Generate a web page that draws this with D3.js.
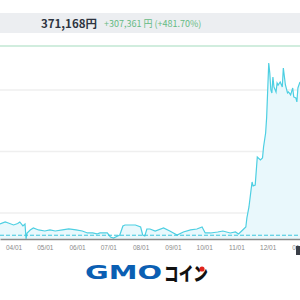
<!DOCTYPE html>
<html>
<head>
<meta charset="utf-8">
<script src="https://cdn.jsdelivr.net/npm/d3@7"></script>
<style>
  body { margin: 0; background: #fff; }
  svg { display: block; font-family: "Noto Sans CJK JP", "Liberation Sans", sans-serif; }
</style>
</head>
<body>
<svg id="chart" width="300" height="300"></svg>
<script>
// values (yen)
var dates = ["2020-03-19","2020-03-24","2020-03-27","2020-04-01","2020-04-05","2020-04-07","2020-04-10","2020-04-12","2020-04-13","2020-04-14",
  "2020-04-17","2020-04-20","2020-04-25","2020-05-01","2020-05-06","2020-05-11","2020-05-18","2020-05-24","2020-05-31","2020-06-06",
  "2020-06-11","2020-06-16","2020-06-20","2020-06-23","2020-06-30","2020-07-03","2020-07-06","2020-07-10","2020-07-12","2020-07-15",
  "2020-07-17","2020-07-22","2020-07-27","2020-08-01","2020-08-03","2020-08-05","2020-08-07","2020-08-10","2020-08-15","2020-08-23",
  "2020-08-29","2020-09-05","2020-09-11","2020-09-18","2020-09-24","2020-09-29","2020-10-02","2020-10-07","2020-10-14","2020-10-19",
  "2020-10-26","2020-10-31","2020-11-03","2020-11-07","2020-11-10","2020-11-11","2020-11-13","2020-11-15","2020-11-16","2020-11-17",
  "2020-11-19","2020-11-21","2020-11-24","2020-11-26","2020-11-27","2020-11-29","2020-11-30","2020-12-02","2020-12-03","2020-12-04",
  "2020-12-05","2020-12-06","2020-12-07","2020-12-09","2020-12-10","2020-12-11","2020-12-13","2020-12-15","2020-12-16","2020-12-18",
  "2020-12-20","2020-12-21","2020-12-23","2020-12-25","2020-12-26","2020-12-28","2020-12-29","2020-12-30","2021-01-01"];
var values = [82100,85400,83700,80500,83000,85400,78900,82100,58000,67500,
  72400,75600,72400,70700,72400,70700,72400,74000,72400,70700,
  67500,67500,65900,67500,67500,61000,59300,62600,64200,78900,
  80500,80500,80500,77200,64200,62600,74000,74000,70700,75600,
  70700,64200,69100,72400,74000,77200,67500,67500,69100,70700,
  67500,69100,65900,72400,77200,91900,109800,137400,150400,143900,
  145500,191100,186200,189400,207300,230100,256100,343900,327600,300000,
  295100,321100,304900,296700,311400,308100,313000,304900,335800,308100,
  295100,296700,291900,303300,288700,287000,280500,303300,313000];
var startValue = 63807;
var gridValues = [100000, 200000, 300000];
var tickDates = ["2020-04-01","2020-05-01","2020-06-01","2020-07-01","2020-08-01","2020-09-01","2020-10-01","2020-11-01","2020-12-01","2021-01-01"];
var totalText = "371,168円";
var changeText = "+307,361 円 (+481.70%)";

var parse = d3.timeParse("%Y-%m-%d");
var data = dates.map(function(d, i){ return {date: parse(d), value: values[i]}; });

var svg = d3.select("#chart");

var x = d3.scaleTime()
  .domain([parse("2020-03-19"), parse("2021-01-01")])
  .range([0, 300]);
var y = d3.scaleLinear()
  .domain([57700, 371500])
  .range([239, 46]);

// header bar
svg.append("rect").attr("x", 0).attr("y", 13).attr("width", 300).attr("height", 20).attr("fill", "#eceef1");
svg.append("text").text(totalText)
  .attr("x", 41).attr("y", 27.5)
  .attr("font-size", 11.5).attr("font-weight", "bold").attr("fill", "#2e3440");
svg.append("text").text(changeText)
  .attr("x", 104).attr("y", 27)
  .attr("font-size", 9).attr("fill", "#66bb84");

// green top rule
svg.append("line").attr("x1", 0).attr("x2", 300).attr("y1", 46).attr("y2", 46)
  .attr("stroke", "#a3dbbd").attr("stroke-width", 1.2);

// grid
svg.append("g").selectAll("line")
  .data(gridValues)
  .enter()
  .append("line")
    .attr("x1", 0).attr("x2", 300)
    .attr("y1", function(d){ return y(d); })
    .attr("y2", function(d){ return y(d); })
    .attr("stroke", "#efefef").attr("stroke-width", 1.5);

// area + line
var area = d3.area()
  .x(function(d){ return x(d.date); })
  .y0(y.range()[0])
  .y1(function(d){ return y(d.value); });
var line = d3.line()
  .x(function(d){ return x(d.date); })
  .y(function(d){ return y(d.value); });

svg.append("path").datum(data).attr("d", area).attr("fill", "#e9f8fc");
svg.append("path").datum(data).attr("d", line)
  .attr("fill", "none").attr("stroke", "#4dcfe2").attr("stroke-width", 1.2);

// start value dashed line
svg.append("line").attr("x1", 0).attr("x2", 300)
  .attr("y1", y(startValue)).attr("y2", y(startValue))
  .attr("stroke", "#3cc6dd").attr("stroke-width", 1).attr("stroke-dasharray", "4,2");

// x axis
var xAxis = svg.append("g")
  .attr("transform", "translate(0," + y.range()[0] + ")")
  .call(d3.axisBottom(x)
    .tickValues(tickDates.map(parse))
    .tickFormat(d3.timeFormat("%m/%d"))
    .tickSize(0)
    .tickPadding(6));
xAxis.select(".domain").attr("stroke", "#8a8a8a").attr("stroke-width", 1.5);
xAxis.selectAll("text")
  .attr("font-size", 6.5).attr("fill", "#8a8a8a")
  .attr("font-family", "Liberation Sans, sans-serif");

// dark marker at bottom right
svg.append("rect").attr("x", 296).attr("y", 246).attr("width", 4).attr("height", 9).attr("fill", "#3a3f47");

// logo
svg.append("text").text("GMO")
  .attr("x", 85).attr("y", 279)
  .attr("font-size", 19).attr("font-weight", "bold")
  .attr("font-family", "DejaVu Sans, sans-serif")
  .attr("textLength", 77).attr("lengthAdjust", "spacingAndGlyphs")
  .attr("fill", "#0b5fb3");
svg.append("text").text("コイン")
  .attr("x", 164).attr("y", 280.5)
  .attr("font-size", 19).attr("font-weight", 900)
  .attr("font-family", "Noto Sans CJK JP, sans-serif")
  .attr("textLength", 44).attr("lengthAdjust", "spacingAndGlyphs")
  .attr("fill", "#111");
svg.append("circle").attr("cx", 202).attr("cy", 269).attr("r", 2.6).attr("fill", "#e0231c");
</script>
</body>
</html>
